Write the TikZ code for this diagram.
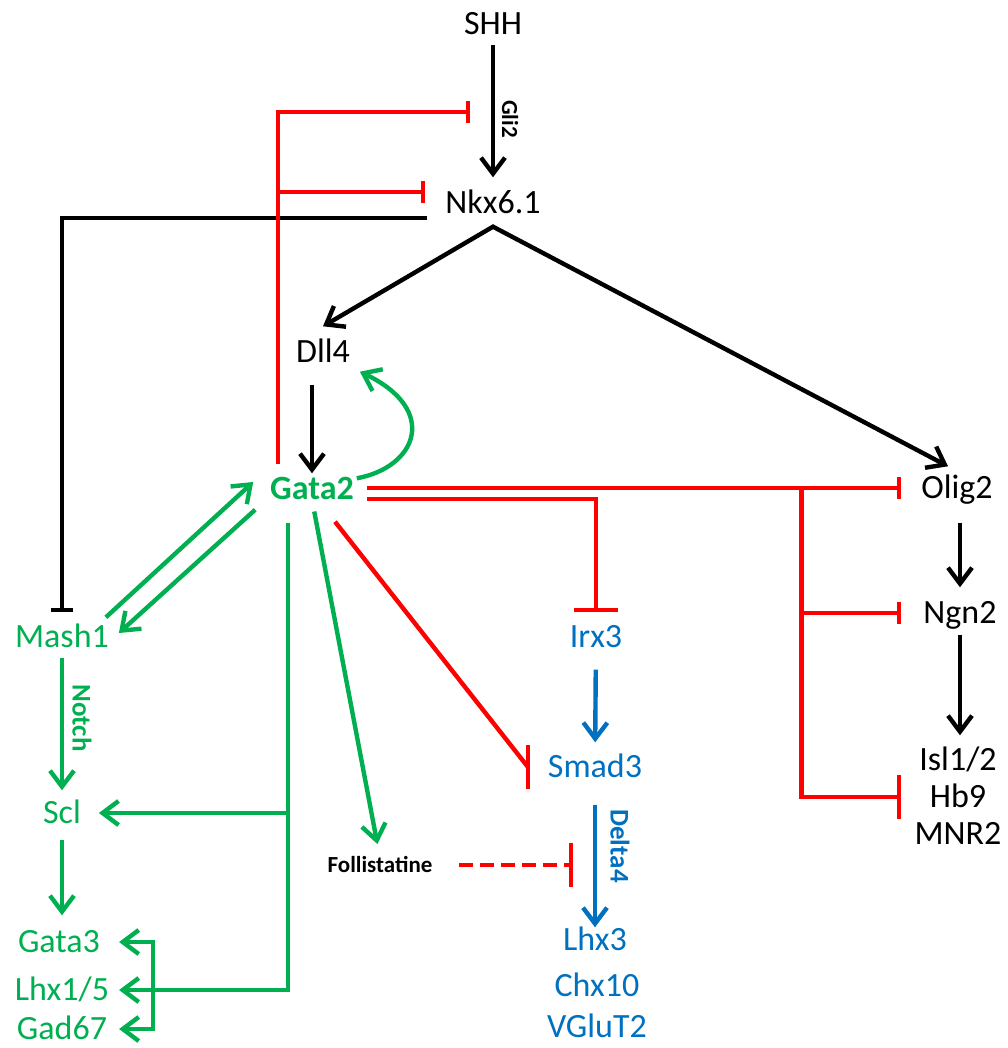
\documentclass[tikz,border=0pt]{standalone}
\usepackage{fontspec}
\setmainfont{Carlito}
\usetikzlibrary{arrows.meta}
\definecolor{ired}{RGB}{255,0,0}
\definecolor{igreen}{RGB}{0,176,80}
\definecolor{iblue}{RGB}{0,112,192}
\begin{document}
\begin{tikzpicture}[x=0.5pt, y=-0.5pt, line width=2.2pt,
  >={Straight Barb[length=8pt, width=12pt]},
  gene/.style={inner sep=0pt, outer sep=0pt, text height=10.7pt, text depth=0pt, font=\fontsize{17}{20}\selectfont},
  lbl/.style={inner sep=0pt, font=\fontsize{13.5}{16}\selectfont\bfseries, rotate=-90},
  inh/.style={-{Bar[width=11pt]}, ired},
  inhl/.style={-{Bar[width=22pt]}, ired}]
  \useasboundingbox (0,0) rectangle (1007,1048);
  % genes
  \node[gene] (shh) at (493,24) {SHH};
  \node[gene] (nkx) at (493,203) {Nkx6.1};
  \node[gene] (dll) at (323,352) {Dll4};
  \node[gene, igreen, font=\fontsize{17}{20}\selectfont\bfseries] (gata2) at (312,489) {Gata2};
  \node[gene] (olig) at (957,488) {Olig2};
  \node[gene] (ngn) at (960,613) {Ngn2};
  \node[gene] (isl) at (958,760) {Isl1/2};
  \node[gene] (hb9) at (958,797) {Hb9};
  \node[gene] (mnr) at (958,834) {MNR2};
  \node[gene, igreen] (mash) at (62,637) {Mash1};
  \node[gene, igreen] (scl) at (62,813) {Scl};
  \node[gene, igreen] (gata3) at (59,942) {Gata3};
  \node[gene, igreen] (lhx15) at (62,990) {Lhx1/5};
  \node[gene, igreen] (gad) at (62,1029) {Gad67};
  \node[gene, iblue] (irx) at (596,637) {Irx3};
  \node[gene, iblue] (smad) at (595,767) {Smad3};
  \node[gene, iblue] (lhx3) at (595,940) {Lhx3};
  \node[gene, iblue] (chx) at (597,986) {Chx10};
  \node[gene, iblue] (vglut) at (597,1027) {VGluT2};
  \node[gene, font=\fontsize{11.5}{14}\selectfont\bfseries, text height=7.2pt] (foll) at (380,865) {Follistatine};
  % labels
  \node[lbl, font=\fontsize{11.5}{14}\selectfont\bfseries] (gli) at (510,119) {Gli2};
  \node[lbl, igreen] (notch) at (82,718) {Notch};
  \node[lbl, iblue] (delta) at (620,846) {Delta4};

  % SHH - Nkx6.1 - Dll4 / Olig2
  \draw[->, shorten <=5pt, shorten >=7.5pt] (shh) -- (nkx);
  \coordinate (apex) at ([yshift=-6.5pt]nkx.south);
  \draw[<->] ([yshift=7.5pt]dll.north) -- (apex) -- ([xshift=-4.5pt, yshift=5.5pt]olig.north);
  \draw[->, shorten <=11pt, shorten >=2.5pt] (gata2 |- dll.south) -- (gata2);
  \draw[->, shorten <=12pt, shorten >=7.5pt] (ngn |- olig.south) -- (ngn);
  \draw[->, shorten <=5.5pt, shorten >=7pt] (ngn) -- (ngn |- isl.north);
  % Nkx6.1 -| Mash1
  \draw[-{Bar[width=11pt]}] ([xshift=-9pt, yshift=-7.5pt]nkx.west) -| ([yshift=7pt]mash.north);

  % Gata2 -| SHH, Nkx6.1
  \coordinate (g2up) at ([xshift=4pt, yshift=7pt]gata2.north west);
  \coordinate (sig) at (494,112);
  \coordinate (nkxbar) at ([xshift=-10pt, yshift=5.5pt]nkx.west);
  \draw[inh] (g2up) |- ([xshift=-12pt]sig);
  \draw[inh] (g2up |- nkxbar) -- (nkxbar);
  % Gata2 -| Olig2, Ngn2, Hb9, Irx3
  \coordinate (ob) at ([xshift=-10pt]olig.west);
  \coordinate (g2e) at ([xshift=6.5pt]gata2.east);
  \coordinate (g2r) at (g2e |- ob);
  \coordinate (rv) at ([xshift=-50pt]ob);
  \draw[inh] (g2r) -- (ob);
  \draw[inh] (rv) |- (ob |- ngn);
  \draw[inhl] (rv) |- (ob |- hb9);
  \draw[inhl] ([yshift=-5.5pt]g2r) -| ([yshift=7pt]irx.north);
  % Gata2 -| Smad3
  \coordinate (smb) at ([xshift=-10pt]smad.west);
  \draw[ired] ([xshift=11.5pt, yshift=-11pt]gata2.south) -- (smb);
  \draw[ired] ([yshift=11pt]smb) -- ([yshift=-11pt]smb);

  % Gata2 loop, Mash1
  \draw[->, igreen] ([xshift=1.5pt]gata2.north east) .. controls +(60,-11) and +(80,38) .. ([xshift=5pt, yshift=-4.5pt]dll.south east);
  \draw[->, igreen] ([xshift=-1.5pt, yshift=4.5pt]mash.north east) -- ([xshift=-8.5pt, yshift=3.5pt]gata2.west);
  \draw[->, igreen] ([xshift=-7.5pt, yshift=-5pt]gata2.south west) -- ([xshift=5pt, yshift=2pt]mash.east);
  \draw[->, igreen, shorten <=5pt, shorten >=6pt] (mash) -- (scl);
  \draw[->, igreen, shorten <=8pt, shorten >=8pt] (scl) -- (scl |- gata3.north);
  % Gata2 -> Scl, Lhx1/5
  \coordinate (g2dn) at ([xshift=-12pt, yshift=-11.5pt]gata2.south);
  \coordinate (tipx) at ([xshift=5pt]lhx15.east);
  \coordinate (brk) at ([xshift=17pt]tipx);
  \draw[->, igreen] (g2dn) |- (tipx |- lhx15);
  \draw[->, igreen] (g2dn |- scl) -- ([xshift=9pt]scl.east);
  \draw[<->, igreen] (tipx |- gata3) -| (brk |- gad) -- (tipx |- gad);
  % Gata2 -> Follistatine
  \draw[->, igreen, shorten <=6pt, shorten >=7pt] (gata2.south) -- (foll.north);

  % Irx3 - Smad3 - Lhx3
  \draw[->, iblue, shorten <=11pt, shorten >=7pt] (irx) -- (smad);
  \draw[->, iblue, shorten <=13.5pt, shorten >=1pt] (smad) -- (lhx3);
  \coordinate (db) at ([xshift=-11pt]smad.south);
  \draw[inhl, dash pattern=on 7pt off 3.5pt, shorten <=13.5pt] (foll.east) -- (db |- foll);
\end{tikzpicture}
\end{document}
